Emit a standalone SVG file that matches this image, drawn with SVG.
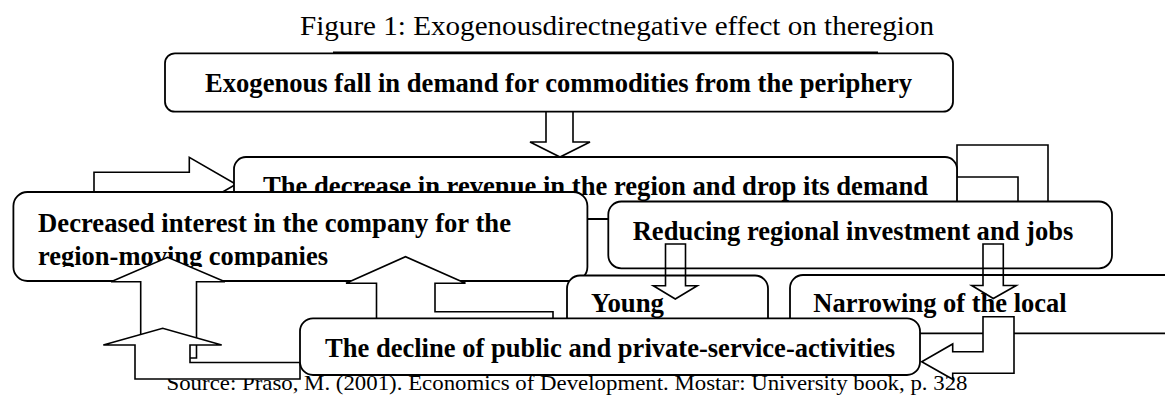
<svg xmlns="http://www.w3.org/2000/svg" width="1165" height="396" viewBox="0 0 1165 396">
<defs>
<style>
.box{fill:#fff;stroke:#000;stroke-width:1.8}
.arw{fill:#fff;stroke:#000;stroke-width:1.6;stroke-linejoin:miter}
.arwn{fill:none;stroke:#000;stroke-width:1.6;stroke-linejoin:miter}
.t{font-family:"Liberation Serif","Times New Roman",serif;font-weight:bold;font-size:26.5px;fill:#000}
.cap{font-family:"Liberation Serif","Times New Roman",serif;fill:#000}
</style>
<clipPath id="clipDec"><rect x="13" y="192" width="575" height="75"/></clipPath>
</defs>
<rect x="0" y="0" width="1165" height="396" fill="#fff"/>
<text class="cap" x="300" y="35" font-size="28" textLength="634" lengthAdjust="spacingAndGlyphs">Figure 1: Exogenousdirectnegative effect on theregion</text>
<text class="cap" x="166.5" y="390" font-size="21" textLength="801" lengthAdjust="spacingAndGlyphs">Source: Prašo, M. (2001). Economics of Development. Mostar: University book, p. 328</text>

<g id="node-top">
<rect class="box" x="165" y="53.3" width="788" height="58.4" rx="10"/>
<line x1="333" y1="52.4" x2="878" y2="52.4" stroke="#000" stroke-width="1.8"/>
<text class="t" x="205" y="92" textLength="707" lengthAdjust="spacingAndGlyphs">Exogenous fall in demand for commodities from the periphery</text>
</g>

<g id="connectors-back">
<path class="arw" d="M94,232 V172.3 H189.3 V157.3 L236,184.3 L189.3,211.3 V196.3 H118 V232 Z"/>
<path class="arw" d="M957,145 H1048 V215 H1060 L1033,238 L1006,215 H1018 V177 H957 Z"/>
</g>

<g id="node-revenue">
<rect class="box" x="234" y="157" width="723" height="62" rx="12"/>
<text class="t" x="263" y="195" textLength="665" lengthAdjust="spacingAndGlyphs">The decrease in revenue in the region and drop its demand</text>
</g>

<g id="node-interest">
<rect class="box" x="13.4" y="192" width="574" height="89" rx="14"/>
<g clip-path="url(#clipDec)">
<text class="t" x="38" y="231.7" textLength="473" lengthAdjust="spacingAndGlyphs">Decreased interest in the company for the</text>
<text class="t" x="38" y="265" textLength="290" lengthAdjust="spacingAndGlyphs">region-moving companies</text>
</g>
</g>

<g id="connectors-up">
<path class="arw" d="M140.7,358 V281.7 H111 L167.7,257.3 L225,281.7 H196.5 V358 Z"/>
<path class="arw" d="M300,379 H135 V345 H103.3 L162.7,328.3 L221.7,345 H190 V362.5 H300 Z"/>
<path class="arw" d="M553,311.7 H435 V283.3 H465.5 L405.5,256.7 L346,283.3 H376.5 V366 H553 Z"/>
</g>

<g id="node-reducing">
<rect class="box" x="608.3" y="201.5" width="503.7" height="66.8" rx="13"/>
<text class="t" x="632.7" y="240" textLength="440.6" lengthAdjust="spacingAndGlyphs">Reducing regional investment and jobs</text>
</g>

<g id="node-young">
<rect class="box" x="567" y="275.5" width="201" height="70" rx="13"/>
<text class="t" x="591" y="311.7" textLength="73" lengthAdjust="spacingAndGlyphs">Young</text>
</g>

<g id="node-narrowing">
<rect class="box" x="790" y="275" width="400" height="58.3" rx="13"/>
<text class="t" x="813.3" y="311.7" textLength="253.4" lengthAdjust="spacingAndGlyphs">Narrowing of the local</text>
</g>

<g id="node-decline">
<rect class="box" x="300" y="318.3" width="620" height="56.7" rx="13"/>
<text class="t" x="325" y="356.5" textLength="570" lengthAdjust="spacingAndGlyphs">The decline of public and private-service-activities</text>
</g>

<g id="connectors">
<path class="arw" d="M983,316.7 H1014 V373.3 H952.7 V379.3 L921.7,361.7 L952.7,344 V351.7 H983 Z"/>
<path class="arwn" d="M546,112 V142 H530 L560,157 L590,142 H573 V112"/>
<path class="arwn" d="M665.5,244 H685.5 V285.7 H697.3 L675.3,299 L653.3,285.7 H665.5 Z"/>
<path class="arwn" d="M983,244 H1003.3 V285.5 H1016.3 L993.3,298.5 L971.7,285.5 H983 Z"/>
</g>
</svg>
